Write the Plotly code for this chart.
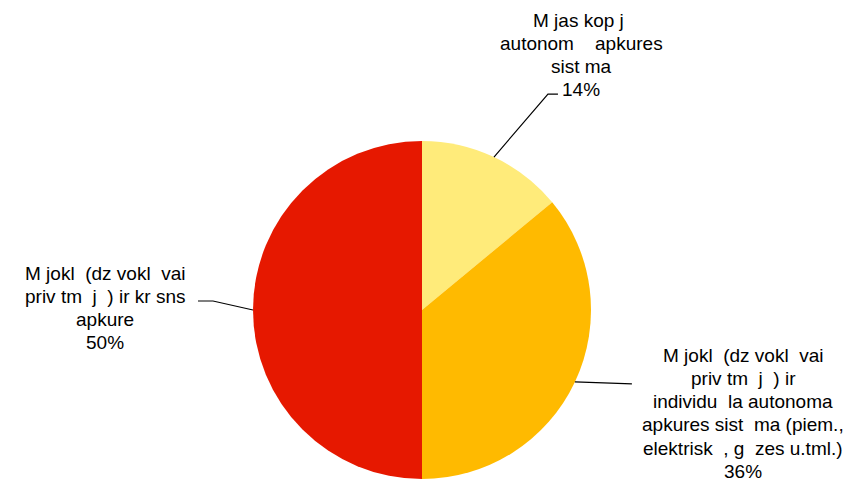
import math
import plotly.graph_objects as go

W, H = 852, 483
NB = "\u00a0"

label_lines = [
    ["M" + NB + "jas kop" + NB + "j" + NB,
     "autonom" + NB + NB + NB + " apkures",
     "sist" + NB + "ma"],
    ["M" + NB + "jokl" + NB + " (dz" + NB + "vokl" + NB + " vai",
     "priv" + NB + "tm" + NB + NB + "j" + NB + NB + ") ir",
     "individu" + NB + " la autonoma",
     "apkures sist" + NB + " ma (piem.,",
     "elektrisk" + NB + " , g" + NB + " zes u.tml.)"],
    ["M" + NB + "jokl" + NB + " (dz" + NB + "vokl" + NB + " vai",
     "priv" + NB + "tm" + NB + NB + "j" + NB + NB + ") ir kr" + NB + "sns",
     "apkure"],
]
values = [14, 36, 50]
colors = ["#FFEB7A", "#FFBA00", "#E61800"]

# pie geometry (pixels)
cx, cy, r = 422, 310, 169

fig = go.Figure()
fig.add_trace(go.Pie(
    values=values,
    labels=["a", "b", "c"],
    sort=False,
    direction="clockwise",
    rotation=0,
    textinfo="none",
    hoverinfo="none",
    marker=dict(colors=colors, line=dict(width=0)),
    domain=dict(x=[(cx - r) / W, (cx + r) / W], y=[(H - cy - r) / H, (H - cy + r) / H]),
    showlegend=False,
))

def px(x, y):
    return x / W, 1 - y / H

total = sum(values)
cum = 0
mids = []
for v in values:
    mids.append((cum + v / 2) / total * 2 * math.pi)
    cum += v

# label layout: elbow offset from edge point, tail length, text center x, first line center y
layout_spec = [
    dict(elbow=(54, -63), tail=10, tx=581, ty0=20),
    dict(elbow=(57, 2), tail=0, tx=743, ty0=355),
    dict(elbow=(-40, -9), tail=-15, tx=105, ty0=273),
]
LINE_H = 23.3
FONT = dict(family="Liberation Sans, Arial, sans-serif", size=19, color="black")

shapes = []
annotations = []
for i, (v, a) in enumerate(zip(values, mids)):
    ex = cx + r * math.sin(a)
    ey = cy - r * math.cos(a)
    s = layout_spec[i]
    bx, by = ex + s["elbow"][0], ey + s["elbow"][1]
    tx2 = bx + s["tail"]
    p0, p1, p2 = px(ex, ey), px(bx, by), px(tx2, by)
    shapes.append(dict(
        type="path", xref="paper", yref="paper",
        path=f"M {p0[0]} {p0[1]} L {p1[0]} {p1[1]} L {p2[0]} {p2[1]}",
        line=dict(color="black", width=1.2),
    ))
    pct = round(v / total * 100)
    lines = label_lines[i] + [f"{pct}%"]
    for k, line in enumerate(lines):
        tx, ty = px(s["tx"], s["ty0"] + k * LINE_H)
        annotations.append(dict(
            x=tx, y=ty, xref="paper", yref="paper",
            text=line, showarrow=False, align="center",
            xanchor="center", yanchor="middle",
            font=FONT,
        ))

fig.update_layout(
    width=W, height=H,
    margin=dict(l=0, r=0, t=0, b=0),
    paper_bgcolor="white",
    plot_bgcolor="white",
    shapes=shapes,
    annotations=annotations,
)

fig.write_html("out.html", config={"displayModeBar": False},
               post_script="document.body.style.margin='0px';")
